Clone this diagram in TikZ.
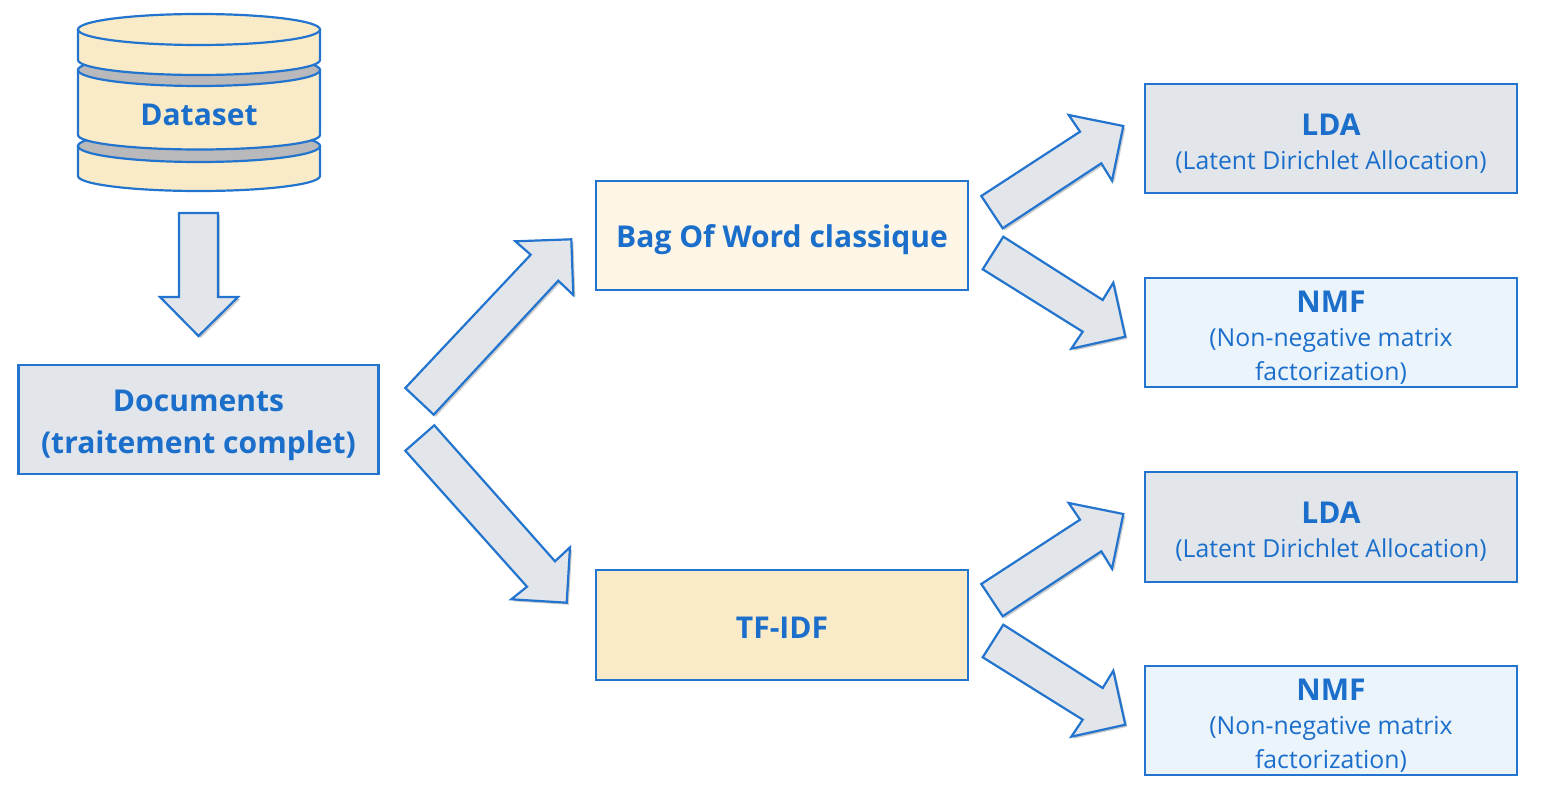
\documentclass[tikz,border=0pt]{standalone}
\usepackage{fontspec}
\setmainfont{Open Sans}
\usetikzlibrary{shadows}
\definecolor{lineblue}{HTML}{2274CE}
\definecolor{textblue}{HTML}{1B6FCB}
\definecolor{palegrey}{HTML}{E2E5E9}
\definecolor{cream}{HTML}{FAEBC8}
\definecolor{palecream}{HTML}{FDF6E6}
\definecolor{paleblue}{HTML}{EBF3FB}
\definecolor{discgrey}{HTML}{B9B9BB}
\newcommand{\headtxt}[1]{{\fontsize{17.1}{20}\selectfont\bfseries #1}}
\tikzset{
  boxnode/.style={draw=lineblue,line width=1.25pt,minimum width=211.6pt,minimum height=62.4pt,inner sep=0pt,align=center,text=textblue,font=\fontsize{14.1}{19.5}\selectfont},
  blockarrow/.style={draw=lineblue,fill=palegrey,line width=1.25pt,line join=miter,drop shadow={shadow xshift=1.2pt,shadow yshift=-1.2pt,opacity=.2,fill=black}},
  disc/.style={draw=lineblue,fill=cream,line width=1.25pt}
}
\begin{document}
\begin{tikzpicture}[x=0.02cm,y=-0.02cm]
\useasboundingbox (0,0) rectangle (1543,797);
% dataset
\draw[disc] (78,146) -- (78,176) arc[start angle=180,end angle=0,x radius=121,y radius=15] -- (320,146) -- cycle;
\draw[disc,fill=discgrey] (199,146) ellipse[x radius=121,y radius=16];
\draw[disc] (78,70) -- (78,135) arc[start angle=180,end angle=0,x radius=121,y radius=14.5] -- (320,70) -- cycle;
\draw[disc,fill=discgrey] (199,70) ellipse[x radius=121,y radius=16];
\draw[disc] (78,30) -- (78,60) arc[start angle=180,end angle=0,x radius=121,y radius=15] -- (320,30) -- cycle;
\draw[disc] (199,29.5) ellipse[x radius=121,y radius=15.5];
\node[text=textblue] (data) at (199,115) {\headtxt{Dataset}};
% boxes
\node[boxnode,fill=palegrey,minimum width=205pt] (doc) at (198.5,419.5) {\rule{0pt}{19pt}\headtxt{Documents}\\[4.5pt]\headtxt{(traitement complet)}};
\node[boxnode,fill=palecream] (bow) at (782,235.5) {\rule{0pt}{18pt}\headtxt{Bag Of Word classique}};
\node[boxnode,fill=cream] (tfidf) at (782,625) {\rule{0pt}{15pt}\headtxt{TF-IDF}};
\node[boxnode,fill=palegrey] (lda1) at (1331,138.5) {\rule{0pt}{18pt}\headtxt{LDA}\\(Latent Dirichlet Allocation)};
\node[boxnode,fill=paleblue] (nmf1) at (1331,332.5) {\rule{0pt}{18pt}\headtxt{NMF}\\(Non-negative matrix\\factorization)};
\node[boxnode,fill=palegrey] (lda2) at (1331,527) {\rule{0pt}{18pt}\headtxt{LDA}\\(Latent Dirichlet Allocation)};
\node[boxnode,fill=paleblue] (nmf2) at (1331,720.5) {\rule{0pt}{18pt}\headtxt{NMF}\\(Non-negative matrix\\factorization)};
% block arrows
\draw[blockarrow] (179,213)--(218,213)--(218,297)--(238,297)--(198.5,336)--(160,297)--(179,297)--cycle;
\draw[blockarrow] (405.3,388)--(530.7,254.7)--(515.3,241.3)--(571.3,239.3)--(573.3,295)--(558.3,280.7)--(433.7,414.7)--cycle;
\draw[blockarrow] (434.3,425.3)--(555,561.3)--(570,547.3)--(566.7,602.7)--(511.3,599.3)--(527,586.7)--(405.3,450.7)--cycle;
\foreach \dy in {0,388}{
\draw[blockarrow,yshift=-\dy*0.02cm] (981.3,196)--(1080,131.7)--(1068.7,115)--(1123.3,126)--(1112,180.7)--(1101.3,163.3)--(1002.7,228.3)--cycle;
\draw[blockarrow,yshift=-\dy*0.02cm] (1003.3,236.7)--(1102.7,300)--(1113.3,282.7)--(1125.3,336.7)--(1071.3,348.7)--(1082.7,331.7)--(982.7,269.3)--cycle;
}
\end{tikzpicture}
\end{document}
